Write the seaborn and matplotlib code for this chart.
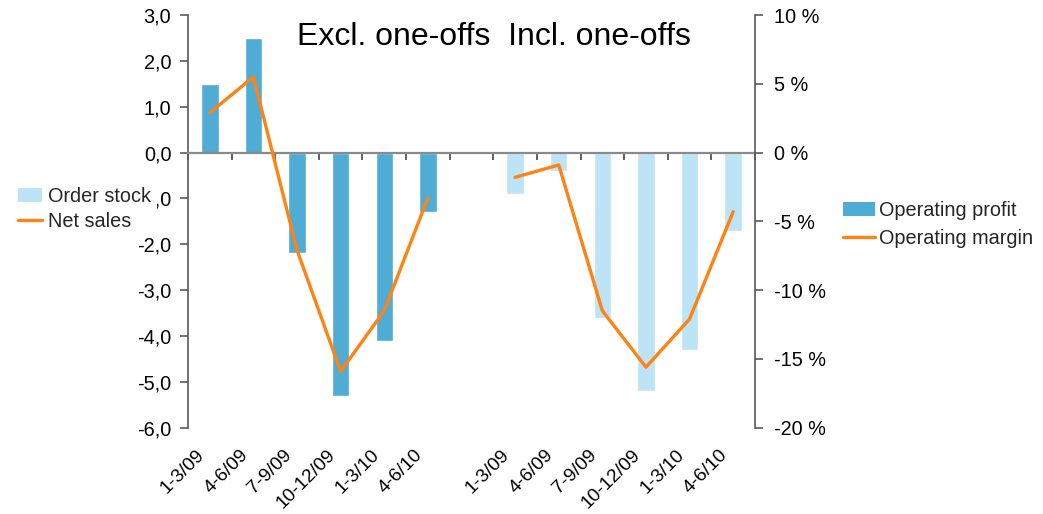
import numpy as np
import matplotlib
matplotlib.use("Agg")
import matplotlib.pyplot as plt
import matplotlib.ticker as mticker
from matplotlib.patches import Patch
from matplotlib.lines import Line2D
import seaborn as sns

# Quarter labels: first block excludes one-offs, second block includes them
quarters_excl = ["1-3/09", "4-6/09", "7-9/09", "10-12/09", "1-3/10", "4-6/10"]
quarters_incl = ["1-3/09", "4-6/09", "7-9/09", "10-12/09", "1-3/10", "4-6/10"]

# Operating profit (MEUR)
op_profit_excl = [1.5, 2.5, -2.2, -5.3, -4.1, -1.3]
op_profit_incl = [-0.9, -0.4, -3.6, -5.2, -4.3, -1.7]

# Operating margin (%)
op_margin_excl = [2.9, 5.5, -7.1, -15.9, -11.5, -3.3]
op_margin_incl = [-1.8, -0.9, -11.5, -15.6, -12.1, -4.3]

header = "Excl. one-offs  Incl. one-offs"

DARK_BLUE = "#4FACD5"
LIGHT_BLUE = "#BDE3F7"
ORANGE = "#FF8312"
AXIS_GREY = "#5a5a5a"
ZERO_GREY = "#8a8a8a"
FS = 14.3

sns.set_theme(style="white")
plt.rcParams["font.family"] = ["Liberation Sans", "DejaVu Sans"]

W, H = 1043, 514
fig = plt.figure(figsize=(W / 100, H / 100), dpi=100)
ax = fig.add_axes([188 / W, 1 - 427.7 / H, 567 / W, 412.7 / H])

pos_excl = np.arange(6)
pos_incl = np.arange(7, 13)

sns.barplot(x=pos_excl, y=op_profit_excl, native_scale=True, width=0.4,
            color=DARK_BLUE, saturation=1, errorbar=None, ax=ax)
sns.barplot(x=pos_incl, y=op_profit_incl, native_scale=True, width=0.4,
            color=LIGHT_BLUE, saturation=1, errorbar=None, ax=ax)

ax.set_xlim(-0.5, 12.5)
ax.set_ylim(-6, 3)
ax.set_yticks(np.arange(-6, 3.1, 1))
ax.yaxis.set_major_formatter(mticker.FuncFormatter(lambda v, p: f"{v:.1f}".replace(".", ",")))
ax.tick_params(axis="y", direction="out", length=6, width=1.2, color=AXIS_GREY,
               pad=6, labelsize=FS, labelcolor="black", left=True)

# Category axis sits on the zero line, with ticks between categories
for side in ["top", "right"]:
    ax.spines[side].set_visible(False)
ax.spines["left"].set_color(AXIS_GREY)
ax.spines["left"].set_linewidth(1.2)
ax.spines["bottom"].set_position(("data", 0))
ax.spines["bottom"].set_color(ZERO_GREY)
ax.spines["bottom"].set_linewidth(1.6)
ax.set_xticks(np.arange(-0.5, 13, 1))
ax.set_xticklabels([])
ax.tick_params(axis="x", direction="out", length=5, width=1.2, color="#444444", bottom=True)
ax.set_xlabel("")
ax.set_ylabel("")

# Rotated quarter labels below the plot area
labels = quarters_excl + [""] + quarters_incl
xt = ax.get_xaxis_transform()
for i, lab in enumerate(labels):
    if lab:
        ax.text(i - 0.32, -0.045, lab, transform=xt, rotation=45, ha="right", va="top",
                rotation_mode="anchor", fontsize=13.8, color="black")

# Margin line on the secondary axis
ax2 = ax.twinx()
sns.lineplot(x=pos_excl, y=op_margin_excl, color=ORANGE, lw=2.4, ax=ax2)
sns.lineplot(x=pos_incl, y=op_margin_incl, color=ORANGE, lw=2.4, ax=ax2)
ax2.set_ylim(-20, 10)
ax2.set_xlim(-0.5, 12.5)
ax2.set_yticks(np.arange(-20, 11, 5))
ax2.yaxis.set_major_formatter(mticker.FuncFormatter(lambda v, p: f"{int(v)} %"))
ax2.tick_params(axis="y", direction="out", length=6, width=1.2, color=AXIS_GREY,
                pad=8, labelsize=FS, labelcolor="black", right=True)
for side in ["top", "left", "bottom"]:
    ax2.spines[side].set_visible(False)
ax2.spines["right"].set_color(AXIS_GREY)
ax2.spines["right"].set_linewidth(1.2)
ax2.set_ylabel("")

ax.text(0.4736, 0.912, header, transform=fig.transFigure, ha="center", va="baseline",
        fontsize=23, color="black")

# Legends
left_handles = [Patch(facecolor=LIGHT_BLUE, edgecolor="none"),
                Line2D([], [], color=ORANGE, lw=2.4)]
leg1 = fig.legend(left_handles, ["Order stock", "Net sales"], loc="upper left",
                  bbox_to_anchor=(12 / W, 1 - 181 / H), frameon=True, facecolor="white",
                  edgecolor="none", framealpha=1, fancybox=False, fontsize=FS,
                  handlelength=1.25, handleheight=0.7, handletextpad=0.28,
                  labelspacing=0.32, borderpad=0.28, borderaxespad=0)
right_handles = [Patch(facecolor=DARK_BLUE, edgecolor="none"),
                 Line2D([], [], color=ORANGE, lw=2.4)]
leg2 = fig.legend(right_handles, ["Operating profit", "Operating margin"], loc="upper left",
                  bbox_to_anchor=(837 / W, 1 - 195 / H), frameon=False, fontsize=FS,
                  handlelength=1.6, handleheight=0.7, handletextpad=0.22,
                  labelspacing=0.45, borderpad=0.3, borderaxespad=0)

fig.savefig("out.png", dpi=100, facecolor="white")
